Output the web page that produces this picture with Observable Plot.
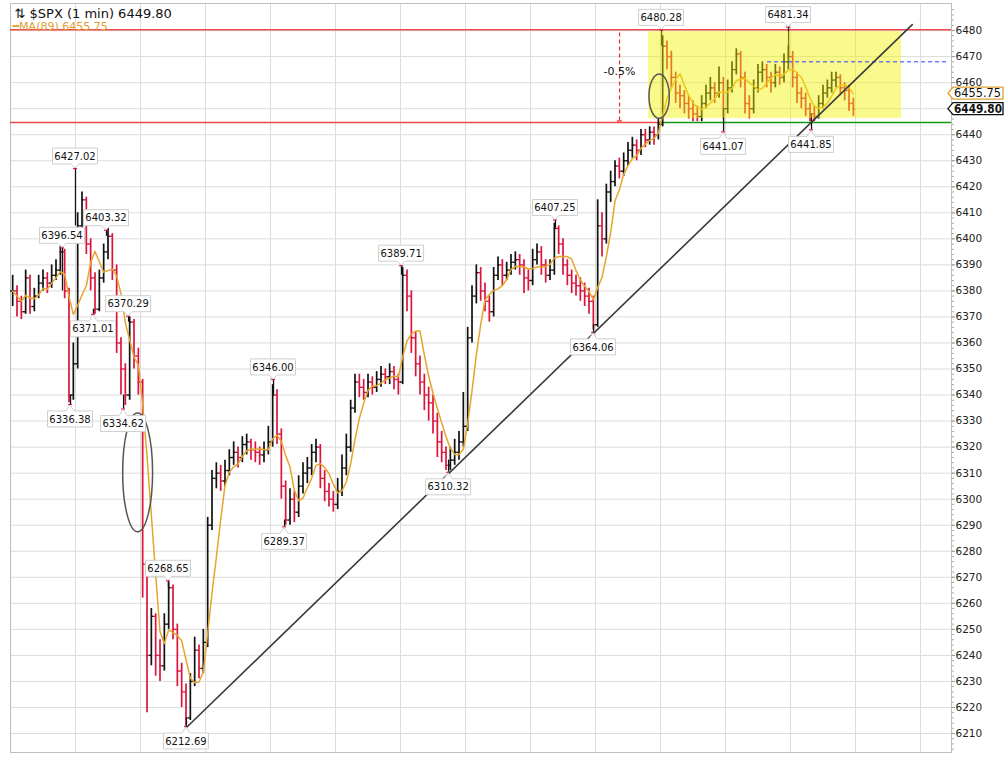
<!DOCTYPE html>
<html><head><meta charset="utf-8">
<script src="https://cdn.jsdelivr.net/npm/d3@7"></script>
<script src="https://cdn.jsdelivr.net/npm/@observablehq/plot@0.6"></script>
<style>
html,body{margin:0;padding:0;background:#fff;}
#chart svg{display:block;}
</style></head><body><div id="chart"></div>
<script>
const closes = [
 6380, 6376, 6372, 6385, 6374, 6378, 6383, 6385, 6383, 6386,
 6388, 6395, 6380, 6340, 6352, 6405, 6415, 6398, 6385, 6373,
 6385, 6395, 6401, 6388, 6360, 6350, 6340, 6368, 6355, 6345,
 6275, 6240, 6255, 6240, 6236, 6252, 6266, 6250, 6234, 6226,
 6216, 6230, 6242, 6235, 6245, 6290, 6308, 6310, 6307, 6311,
 6316, 6318, 6316, 6321, 6322, 6319, 6318, 6317, 6319, 6322,
 6340, 6325, 6305, 6292, 6300, 6295, 6305, 6310, 6312, 6318,
 6320, 6308, 6303, 6300, 6298, 6303, 6312, 6320, 6335, 6345,
 6343, 6341, 6345, 6343, 6346, 6348, 6347, 6349, 6346, 6345,
 6386, 6378, 6362, 6352, 6345, 6340, 6337, 6330, 6322, 6318,
 6313, 6315, 6318, 6322, 6328, 6362, 6378, 6387, 6380, 6376,
 6372, 6386, 6390, 6386, 6388, 6391, 6392, 6390, 6385, 6384,
 6392, 6395, 6390, 6386, 6388, 6404, 6398, 6390, 6386, 6383,
 6382, 6380, 6378, 6376, 6367, 6405, 6400, 6418, 6422, 6428,
 6426, 6430, 6434, 6436, 6434, 6440, 6438, 6441, 6440, 6444,
 6474, 6470, 6462, 6456, 6455, 6452, 6450, 6448, 6447, 6452,
 6456, 6458, 6456, 6460, 6450, 6458, 6465, 6471, 6462, 6452,
 6450, 6458, 6464, 6465, 6462, 6460, 6464, 6462, 6468, 6470,
 6462, 6456, 6454, 6450, 6448, 6447, 6452, 6456, 6458, 6461,
 6462, 6458, 6457, 6452, 6449.80
];
const highs = [
 6386, 6382, 6378, 6388, 6386, 6381, 6386, 6388, 6387, 6390,
 6392, 6397, 6396, 6381, 6360, 6410, 6418, 6416, 6400, 6387,
 6388, 6398, 6404, 6402, 6390, 6362, 6352, 6370, 6369, 6358,
 6346, 6276, 6258, 6256, 6246, 6256, 6268, 6267, 6252, 6237,
 6229, 6233, 6247, 6244, 6250, 6293, 6311, 6314, 6313, 6315,
 6319, 6322, 6320, 6324, 6325, 6323, 6322, 6320, 6322, 6328,
 6344, 6342, 6327, 6307, 6304, 6303, 6309, 6314, 6316, 6321,
 6323, 6321, 6311, 6306, 6303, 6308, 6317, 6325, 6338, 6348,
 6348, 6346, 6348, 6347, 6349, 6351, 6350, 6352, 6351, 6348,
 6389, 6388, 6380, 6364, 6355, 6348, 6343, 6340, 6333, 6326,
 6320, 6320, 6323, 6326, 6341, 6366, 6382, 6390, 6389, 6383,
 6378, 6389, 6393, 6392, 6391, 6394, 6395, 6394, 6392, 6388,
 6396, 6398, 6397, 6392, 6392, 6406, 6405, 6400, 6392, 6388,
 6386, 6385, 6383, 6381, 6378, 6415, 6410, 6421, 6426, 6430,
 6431, 6433, 6437, 6439, 6438, 6442, 6442, 6443, 6443, 6446,
 6478, 6476, 6472, 6464, 6459, 6457, 6455, 6453, 6451, 6455,
 6459, 6462, 6460, 6466, 6462, 6461, 6468, 6473, 6472, 6464,
 6455, 6461, 6467, 6468, 6467, 6464, 6467, 6466, 6471, 6474,
 6472, 6464, 6458, 6456, 6452, 6451, 6455, 6459, 6461, 6464,
 6464, 6463, 6460, 6459, 6454
];
const lows = [
 6374, 6370, 6369, 6371, 6371, 6372, 6377, 6380, 6379, 6381,
 6384, 6386, 6377, 6337, 6338, 6350, 6400, 6394, 6380, 6371,
 6372, 6383, 6392, 6384, 6356, 6340, 6336, 6338, 6350, 6340,
 6262, 6218, 6236, 6232, 6230, 6234, 6250, 6246, 6228, 6220,
 6213, 6215, 6228, 6231, 6233, 6243, 6288, 6304, 6303, 6305,
 6309, 6313, 6312, 6314, 6317, 6315, 6314, 6313, 6314, 6317,
 6320, 6321, 6300, 6290, 6290, 6291, 6293, 6302, 6306, 6309,
 6314, 6304, 6299, 6297, 6295, 6296, 6301, 6309, 6318, 6333,
 6339, 6338, 6339, 6340, 6341, 6343, 6344, 6344, 6342, 6340,
 6344, 6372, 6356, 6347, 6340, 6334, 6330, 6325, 6316, 6314,
 6311, 6311, 6313, 6315, 6320, 6326, 6360, 6375, 6376, 6372,
 6368, 6370, 6384, 6382, 6384, 6386, 6388, 6386, 6379, 6380,
 6382, 6390, 6386, 6383, 6384, 6386, 6394, 6386, 6382, 6379,
 6378, 6376, 6374, 6371, 6365, 6366, 6393, 6398, 6414, 6420,
 6423, 6424, 6428, 6431, 6430, 6432, 6435, 6436, 6436, 6438,
 6443, 6465, 6458, 6452, 6450, 6448, 6446, 6445, 6445, 6445,
 6450, 6453, 6452, 6454, 6446, 6448, 6456, 6463, 6458, 6448,
 6446, 6448, 6456, 6460, 6458, 6456, 6458, 6459, 6460, 6465,
 6458, 6452, 6450, 6447, 6445, 6445, 6446, 6450, 6454, 6456,
 6458, 6455, 6453, 6449, 6447
];
const maPeriodLabel = "MA(89)";
const maLast = 6455.75;
// labelled extremes: [minute, value]
const peakLabels = [[30.0, 6427.02], [24.0, 6396.54], [44.3, 6403.32], [54.5, 6370.29], [72.9, 6268.65],
  [121.4, 6346.00], [180.5, 6389.71], [251.5, 6407.25], [300.5, 6480.28], [359.1, 6481.34]];
const troughLabels = [[27.7, 6336.38], [38.3, 6371.01], [52.2, 6334.62], [81.2, 6212.69], [126.5, 6289.37],
  [202.2, 6310.32], [269.1, 6364.06], [329.1, 6441.07], [369.7, 6441.85]];
const yTicks = d3.range(6210, 6481, 10);
const yMinorTicks = d3.range(6204, 6490, 2);
const hiddenTick = 6450; // covered by the price tags
const xGrid = d3.range(0, 421, 30);
const resistanceLevel = 6480.28;
const supportLevel = 6444.7;
const supportSplitMinute = 300;
const rangeBox = [{m1: 294.5, m2: 411.2, v1: 6446.2, v2: 6479.6}];
const trendLine = [[81.2, 6212.3], [416.2, 6482.3]];
const blueLevel = [{v: 6468, m1: 349.4, m2: 433}];
const dropMark = {m: 281.1, v1: 6445.3, v2: 6480.28, text: "-0.5%", textV: 6464.3};
const ellipses = [{m: 299.6, v: 6454.6, rm: 4.7, rv: 8.5}, {m: 58.9, v: 6310.1, rm: 6.9, rv: 22.8}];
const xDomain = [0, 434.3];
const yDomain = [6202.7, 6490.4];

// ---- derived table ----
const bars = closes.map((c, i) => ({m: 2 * i + 1, o: i ? closes[i - 1] : c, c, h: highs[i], l: lows[i]}));
const lastClose = closes[closes.length - 1];
const RED = "#dc143c", UP = "#111";
const barColor = d => d.c >= d.o ? UP : RED;
const FONT = "DejaVu Sans, Verdana, sans-serif";

function calloutMark(list, above) {
  return (index, scales) => {
    const g = d3.create("svg:g");
    for (const [m, v] of list) {
      const px = scales.x(m), py = scales.y(v);
      const w = 45, h = 16;
      let top, d;
      if (above) {
        const b = py - 4; top = b - h;
        d = `M${px - w / 2},${top}H${px + w / 2}V${b}H${px + 4}L${px},${py}L${px - 4},${b}H${px - w / 2}Z`;
      } else {
        const tip = py + 1; top = py + 7;
        d = `M${px - w / 2},${top}H${px - 4}L${px},${tip}L${px + 4},${top}H${px + w / 2}V${top + h}H${px - w / 2}Z`;
      }
      g.append("path").attr("d", d).attr("fill", "#fff").attr("stroke", "#cfcfcf").attr("stroke-width", 1);
      g.append("text").attr("x", px).attr("y", top + h / 2).attr("dy", "0.36em")
        .attr("text-anchor", "middle").attr("font-family", FONT).attr("font-size", 10)
        .attr("fill", "#111").text(v.toFixed(2));
    }
    return g.node();
  };
}

function ellipseMark(index, scales) {
  const g = d3.create("svg:g");
  for (const e of ellipses) {
    const cx = scales.x(e.m), cy = scales.y(e.v);
    const rx = Math.abs(scales.x(e.m + e.rm) - cx), ry = Math.abs(scales.y(e.v + e.rv) - cy);
    g.append("ellipse").attr("cx", cx).attr("cy", cy).attr("rx", rx).attr("ry", ry)
      .attr("fill", "none").attr("stroke", "#555").attr("stroke-width", 1.5);
  }
  return g.node();
}

function tagMark(index, scales) {
  const g = d3.create("svg:g");
  const x0 = scales.x(xDomain[1]);
  const tags = [{v: maLast, stroke: "#e0a030", bold: false}, {v: lastClose, stroke: "#111", bold: true}];
  for (const t of tags) {
    const py = scales.y(t.v), h = 12, L = x0 - 3, B = x0 + 2, R = x0 + 52;
    const d = `M${L},${py}L${B},${py - h / 2}H${R}V${py + h / 2}H${B}Z`;
    g.append("path").attr("d", d).attr("fill", "#fff").attr("stroke", t.stroke).attr("stroke-width", 1.3);
    g.append("text").attr("x", B + 1).attr("y", py).attr("dy", "0.36em").attr("text-anchor", "start")
      .attr("font-family", FONT).attr("font-size", 11.5).attr("font-weight", t.bold ? "bold" : "normal")
      .attr("fill", "#111").attr("textLength", t.bold ? 48 : 47).attr("lengthAdjust", "spacingAndGlyphs")
      .text(t.v.toFixed(2));
  }
  return g.node();
}

const chart = Plot.plot({
  width: 1005, height: 757,
  marginLeft: 10, marginRight: 54, marginTop: 3, marginBottom: 5,
  style: {fontFamily: FONT, fontSize: "10px", background: "#fff"},
  x: {domain: xDomain, axis: null},
  y: {domain: yDomain, axis: null},
  marks: [
    Plot.gridY(yTicks, {stroke: "#dcdcdc", strokeOpacity: 1}),
    Plot.gridX(xGrid, {stroke: "#dcdcdc", strokeOpacity: 1}),
    Plot.frame({stroke: "#bdbdbd"}),
    Plot.axisY(yMinorTicks, {anchor: "right", tickSize: 2, tickFormat: () => "", stroke: "#aaa"}),
    Plot.axisY(yTicks.filter(t => t !== hiddenTick), {anchor: "right", tickSize: 3, tickPadding: 1, tickFormat: d => String(d), fill: "#222", stroke: "#999", fontSize: 10.5}),
    // level lines
    Plot.ruleY([resistanceLevel], {stroke: "#f04848", strokeWidth: 1.5}),
    Plot.ruleY([supportLevel], {x1: xDomain[0], x2: supportSplitMinute, stroke: "#f04848", strokeWidth: 1.5}),
    Plot.ruleY([supportLevel], {x1: supportSplitMinute, x2: xDomain[1], stroke: "#119911", strokeWidth: 1.5}),
    // price bars (OHLC)
    Plot.ruleX(bars, {x: "m", y1: "l", y2: "h", stroke: barColor, strokeWidth: 1.7}),
    Plot.ruleY(bars, {y: "o", x1: d => d.m - 1.0, x2: "m", stroke: barColor, strokeWidth: 1.4}),
    Plot.ruleY(bars, {y: "c", x1: "m", x2: d => d.m + 1.0, stroke: barColor, strokeWidth: 1.4}),
    Plot.ruleX(peakLabels.concat(troughLabels), {x: d => d[0], y1: d => closes[Math.round((d[0] - 1) / 2)], y2: d => d[1], stroke: "#111", strokeWidth: 1.3}),
    Plot.ruleY(peakLabels.concat(troughLabels), {y: d => d[1], x1: d => d[0] - 0.9, x2: d => d[0] + 0.9, stroke: RED, strokeWidth: 1.2}),
    // moving average
    Plot.lineY(bars, Plot.windowY({k: 5, anchor: "end"}, {x: "m", y: "c", stroke: "#e6a52a", strokeWidth: 1.5})),
    // consolidation box
    Plot.rect(rangeBox, {x1: "m1", x2: "m2", y1: "v1", y2: "v2", fill: "#f2f200", fillOpacity: 0.45}),
    Plot.ruleY(blueLevel, {y: "v", x1: "m1", x2: "m2", stroke: "#2a3cff", strokeDasharray: "4,3", strokeWidth: 1}),
    Plot.ruleX([dropMark], {x: "m", y1: "v1", y2: "v2", stroke: "#e83030", strokeDasharray: "4,3", strokeWidth: 1.2}),
    Plot.ruleY([dropMark], {y: "v1", x1: d => d.m - 1, x2: d => d.m + 1.3, stroke: "#e83030", strokeWidth: 1.2}),
    Plot.text([dropMark], {x: "m", y: "textV", text: "text", fill: "#111", fontSize: 11, fontFamily: FONT}),
    Plot.line(trendLine, {x: d => d[0], y: d => d[1], stroke: "#3a3a3a", strokeWidth: 1.6}),
    ellipseMark,
    calloutMark(peakLabels, true),
    calloutMark(troughLabels, false),
    tagMark,
    // title + legend
    Plot.text([`⇅ $SPX (1 min) ${lastClose.toFixed(2)}`], {frameAnchor: "top-left", dx: 4, dy: 10, text: d => d, lineAnchor: "middle", textAnchor: "start", fontSize: 13, fill: "#111", fontFamily: FONT}),
    Plot.text([`━${maPeriodLabel} ${maLast.toFixed(2)}`], {frameAnchor: "top-left", dx: 2, dy: 23, text: d => d, lineAnchor: "middle", textAnchor: "start", fontSize: 11, fill: "#e0a030", fontFamily: FONT})
  ]
});
document.getElementById("chart").append(chart);
</script>
</body></html>
